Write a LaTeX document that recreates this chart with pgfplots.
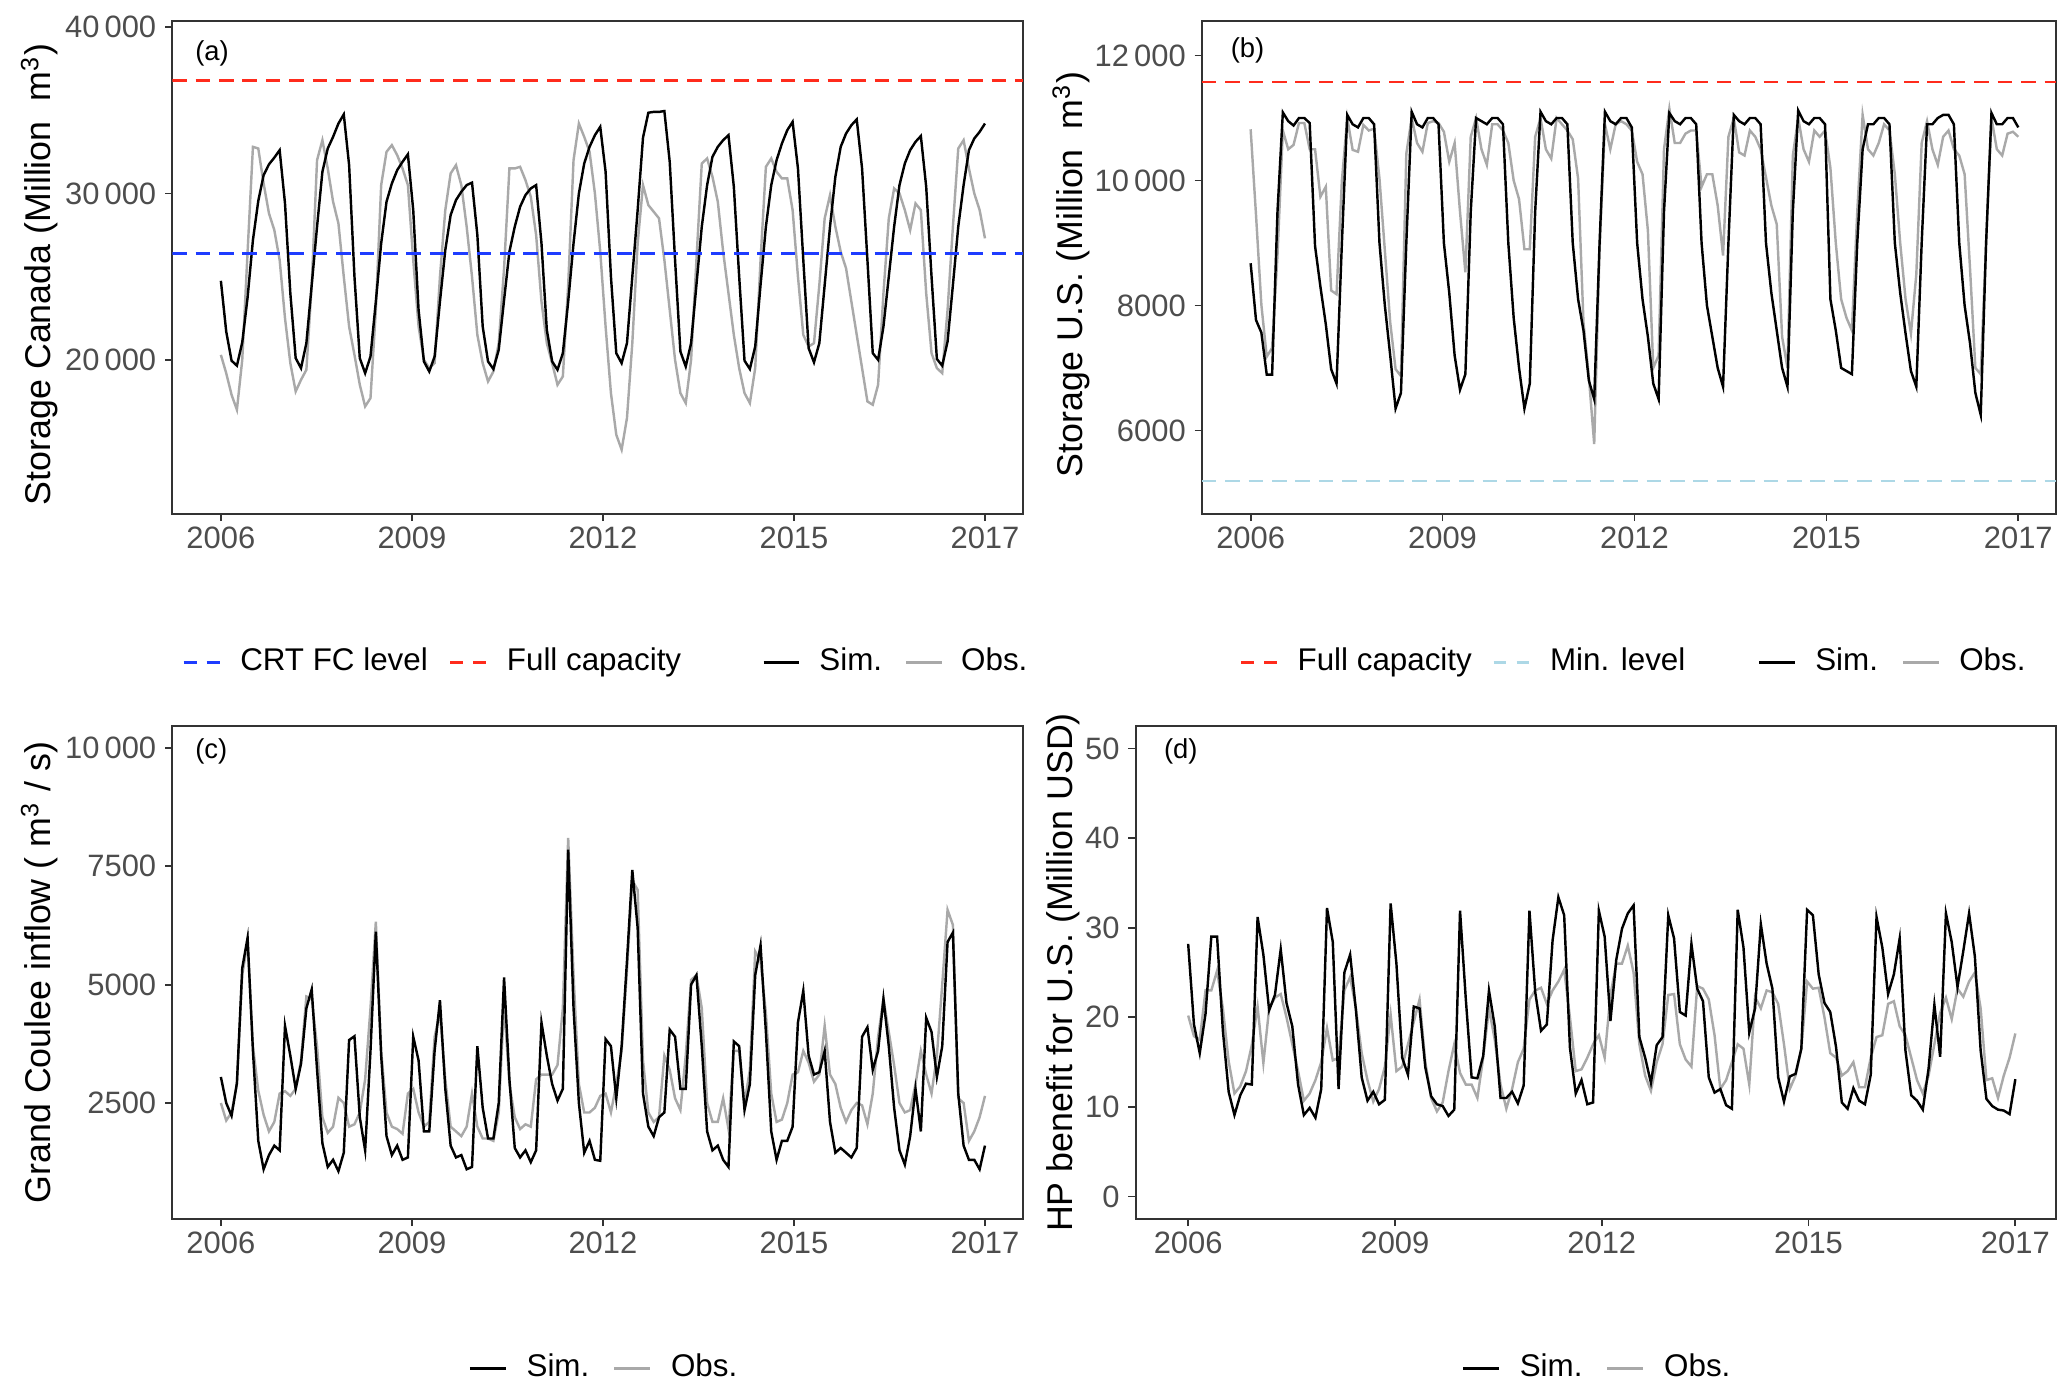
\documentclass[border=0pt]{standalone}
\usepackage{fontspec}
\setmainfont{Liberation Sans}
\usepackage{pgfplots}
\usepackage{pgfplotstable}
\pgfplotsset{compat=1.18}

\definecolor{obsgray}{HTML}{A9A9A9}
\definecolor{tickgray}{HTML}{4D4D4D}
\definecolor{framegray}{HTML}{333333}
\definecolor{fullred}{HTML}{FF2B1C}
\definecolor{crtblue}{HTML}{1E3CFF}
\definecolor{minblue}{HTML}{ADD8E6}

% monthly series, k = 0 (2006-01) ... 143 (end of record)
% (a) storage Canada, million m3
\pgfplotstableread[row sep=\\]{
k sim obs\\
0 24750 20300\\ 1 21700 19200\\ 2 19950 17900\\ 3 19650 17000\\ 4 21050 20000\\ 5 23750 26500\\ 6 27200 32800\\ 7 29550 32700\\ 8 31100 30600\\ 9 31750 28800\\ 10 32150 27800\\ 11 32600 26000\\
12 29400 22500\\ 13 24000 19800\\ 14 20100 18100\\ 15 19500 18800\\ 16 21000 19400\\ 17 24500 24500\\ 18 28000 32000\\ 19 31300 33200\\ 20 32700 31500\\ 21 33400 29500\\ 22 34200 28200\\ 23 34750 25000\\
24 31700 22000\\ 25 25000 20300\\ 26 20100 18500\\ 27 19200 17200\\ 28 20200 17700\\ 29 23500 23000\\ 30 27000 30500\\ 31 29500 32500\\ 32 30600 32900\\ 33 31400 32300\\ 34 31900 31500\\ 35 32350 30500\\
36 29000 26000\\ 37 23000 22000\\ 38 19900 20000\\ 39 19300 19500\\ 40 20200 19800\\ 41 23500 25000\\ 42 26600 29000\\ 43 28700 31200\\ 44 29600 31700\\ 45 30100 30500\\ 46 30500 28000\\ 47 30650 25000\\
48 27500 21500\\ 49 22000 19800\\ 50 19900 18700\\ 51 19450 19300\\ 52 20600 21000\\ 53 23600 25500\\ 54 26500 31500\\ 55 28000 31500\\ 56 29200 31600\\ 57 29900 30800\\ 58 30300 29800\\ 59 30500 27500\\
60 27000 23500\\ 61 21800 21000\\ 62 19900 19800\\ 63 19400 18500\\ 64 20400 19000\\ 65 23500 24500\\ 66 27000 32000\\ 67 30000 34200\\ 68 31800 33400\\ 69 32800 32500\\ 70 33500 30000\\ 71 34000 26500\\
72 31300 22000\\ 73 25000 18000\\ 74 20400 15500\\ 75 19800 14600\\ 76 21000 16500\\ 77 25000 21000\\ 78 29000 27000\\ 79 33350 30500\\ 80 34850 29300\\ 81 34900 28900\\ 82 34900 28500\\ 83 34950 26000\\
84 31900 23000\\ 85 26000 20000\\ 86 20500 18000\\ 87 19600 17400\\ 88 21000 20000\\ 89 24500 26000\\ 90 28000 31800\\ 91 30500 32100\\ 92 32200 31000\\ 93 32800 29500\\ 94 33200 26500\\ 95 33500 24000\\
96 30400 21500\\ 97 25000 19500\\ 98 19950 18000\\ 99 19450 17400\\ 100 20800 19500\\ 101 24500 26000\\ 102 28000 31600\\ 103 30500 32100\\ 104 32000 31300\\ 105 33000 30900\\ 106 33800 30900\\ 107 34300 29000\\
108 31500 25000\\ 109 26000 21500\\ 110 20700 20800\\ 111 19850 21000\\ 112 21000 24500\\ 113 24500 28500\\ 114 28000 29900\\ 115 31000 28000\\ 116 32800 26500\\ 117 33600 25500\\ 118 34100 23500\\ 119 34450 21500\\
120 31500 19500\\ 121 26000 17500\\ 122 20400 17300\\ 123 20000 18500\\ 124 22000 24000\\ 125 25000 28500\\ 126 28000 30300\\ 127 30500 30000\\ 128 31800 29000\\ 129 32600 27800\\ 130 33100 29400\\ 131 33450 29000\\
132 30400 24000\\ 133 25000 20400\\ 134 20050 19500\\ 135 19650 19200\\ 136 21100 23000\\ 137 24500 28000\\ 138 28000 32700\\ 139 30500 33200\\ 140 32600 31500\\ 141 33300 30000\\ 142 33700 29000\\ 143 34200 27300\\
}\tabA

% (b) storage U.S., million m3
\pgfplotstableread[row sep=\\]{
k sim obs\\
0 8675 10820\\ 1 7767 9450\\ 2 7565 8010\\ 3 6892 7180\\ 4 6892 7320\\ 5 9500 8800\\ 6 11090 10800\\ 7 10950 10500\\ 8 10880 10570\\ 9 11000 10920\\ 10 11000 10920\\ 11 10920 10500\\
12 8950 10500\\ 13 8300 9740\\ 14 7700 9900\\ 15 6980 8240\\ 16 6750 8180\\ 17 9000 10000\\ 18 11050 11000\\ 19 10900 10490\\ 20 10850 10460\\ 21 11000 10890\\ 22 11000 10800\\ 23 10900 10830\\
24 9000 10030\\ 25 8000 8880\\ 26 7200 7730\\ 27 6350 6980\\ 28 6600 6870\\ 29 9000 10430\\ 30 11100 11000\\ 31 10900 10600\\ 32 10850 10460\\ 33 11000 10920\\ 34 11000 10950\\ 35 10900 10920\\
36 9000 10780\\ 37 8200 10300\\ 38 7200 10600\\ 39 6650 9500\\ 40 6900 8530\\ 41 9500 10700\\ 42 11000 11000\\ 43 10950 10500\\ 44 10900 10250\\ 45 11000 10900\\ 46 11000 10900\\ 47 10900 10800\\
48 9000 10600\\ 49 7800 10000\\ 50 7000 9700\\ 51 6350 8900\\ 52 6750 8900\\ 53 9500 10700\\ 54 11100 11000\\ 55 10950 10500\\ 56 10900 10350\\ 57 11000 11000\\ 58 11000 10900\\ 59 10900 10800\\
60 9000 10660\\ 61 8100 10030\\ 62 7600 7730\\ 63 6800 6860\\ 64 6500 5780\\ 65 9000 8900\\ 66 11100 10900\\ 67 10950 10500\\ 68 10900 10900\\ 69 11000 10950\\ 70 11000 10900\\ 71 10850 10800\\
72 9000 10300\\ 73 8100 10100\\ 74 7500 9200\\ 75 6750 7000\\ 76 6500 7200\\ 77 9500 10500\\ 78 11080 11150\\ 79 10950 10600\\ 80 10900 10600\\ 81 11000 10750\\ 82 11000 10800\\ 83 10900 10800\\
84 9000 9900\\ 85 8000 10100\\ 86 7500 10100\\ 87 7000 9600\\ 88 6700 8800\\ 89 9000 10700\\ 90 11050 11000\\ 91 10950 10450\\ 92 10900 10400\\ 93 11000 10800\\ 94 11000 10700\\ 95 10900 10500\\
96 9000 10050\\ 97 8200 9600\\ 98 7600 9300\\ 99 7000 7500\\ 100 6700 7000\\ 101 9500 10400\\ 102 11120 11000\\ 103 10950 10500\\ 104 10900 10300\\ 105 11000 10800\\ 106 11000 10700\\ 107 10900 10800\\
108 8100 10200\\ 109 7600 9000\\ 110 7000 8100\\ 111 6950 7800\\ 112 6900 7600\\ 113 9000 9500\\ 114 10500 11050\\ 115 10900 10500\\ 116 10900 10400\\ 117 11000 10600\\ 118 11000 10900\\ 119 10900 10800\\
120 9000 10100\\ 121 8200 9000\\ 122 7550 8100\\ 123 6950 7550\\ 124 6700 8500\\ 125 9000 10600\\ 126 10900 10950\\ 127 10900 10500\\ 128 11000 10250\\ 129 11050 10700\\ 130 11050 10800\\ 131 10900 10500\\
132 9000 10400\\ 133 8000 10100\\ 134 7400 8600\\ 135 6600 7000\\ 136 6250 6900\\ 137 9000 9000\\ 138 11080 11000\\ 139 10900 10500\\ 140 10900 10400\\ 141 11000 10750\\ 142 11000 10780\\ 143 10850 10700\\
}\tabB

% (c) Grand Coulee inflow, m3/s
\pgfplotstableread[row sep=\\]{
k sim obs\\
0 3050 2500\\ 1 2500 2130\\ 2 2230 2300\\ 3 2920 2900\\ 4 5350 5200\\ 5 5990 5900\\ 6 3600 3700\\ 7 1700 2760\\ 8 1100 2250\\ 9 1400 1900\\ 10 1600 2100\\ 11 1500 2700\\
12 4130 2750\\ 13 3500 2650\\ 14 2800 2800\\ 15 3330 3400\\ 16 4500 4750\\ 17 4900 4700\\ 18 3200 3700\\ 19 1650 2200\\ 20 1150 1870\\ 21 1300 2000\\ 22 1060 2610\\ 23 1450 2500\\
24 3830 2000\\ 25 3910 2050\\ 26 2200 2300\\ 27 1500 3000\\ 28 3600 4500\\ 29 6120 6330\\ 30 3500 3600\\ 31 1800 2300\\ 32 1400 2000\\ 33 1600 1950\\ 34 1300 1850\\ 35 1350 2700\\
36 3900 2800\\ 37 3400 2300\\ 38 1900 2000\\ 39 1900 2100\\ 40 3600 3900\\ 41 4670 4400\\ 42 2800 3000\\ 43 1600 2000\\ 44 1350 1900\\ 45 1400 1800\\ 46 1100 2000\\ 47 1150 2700\\
48 3700 2000\\ 49 2400 1750\\ 50 1750 1750\\ 51 1750 1700\\ 52 2500 2300\\ 53 5150 4600\\ 54 3000 2900\\ 55 1550 2200\\ 56 1350 1950\\ 57 1500 2050\\ 58 1250 2000\\ 59 1500 3000\\
60 4200 3100\\ 61 3500 3100\\ 62 2900 3100\\ 63 2550 3300\\ 64 2800 4500\\ 65 7850 8100\\ 66 4500 5200\\ 67 2500 2900\\ 68 1450 2300\\ 69 1700 2300\\ 70 1300 2400\\ 71 1280 2650\\
72 3850 2700\\ 73 3700 2300\\ 74 2600 2900\\ 75 3700 3600\\ 76 5500 5300\\ 77 7420 7200\\ 78 6200 7000\\ 79 2700 3400\\ 80 2000 2300\\ 81 1800 2100\\ 82 2200 2200\\ 83 2300 3500\\
84 4050 3200\\ 85 3900 2600\\ 86 2800 2350\\ 87 2800 3500\\ 88 5000 5100\\ 89 5200 5200\\ 90 3700 4500\\ 91 1900 2500\\ 92 1500 2100\\ 93 1600 2100\\ 94 1300 2600\\ 95 1150 1950\\
96 3800 3600\\ 97 3700 3600\\ 98 2350 2500\\ 99 2900 3200\\ 100 5200 5700\\ 101 5830 5500\\ 102 4000 4400\\ 103 1900 2700\\ 104 1300 2100\\ 105 1700 2150\\ 106 1700 2500\\ 107 2000 3100\\
108 4200 3150\\ 109 4870 3600\\ 110 3500 3350\\ 111 3100 2950\\ 112 3150 3100\\ 113 3600 4130\\ 114 2100 3100\\ 115 1450 2900\\ 116 1550 2400\\ 117 1450 2100\\ 118 1350 2350\\ 119 1550 2500\\
120 3900 2450\\ 121 4100 2050\\ 122 3200 2700\\ 123 3600 3900\\ 124 4700 4700\\ 125 3700 4000\\ 126 2400 3300\\ 127 1500 2500\\ 128 1200 2300\\ 129 1800 2350\\ 130 2800 2900\\ 131 1900 3600\\
132 4300 3100\\ 133 4000 2700\\ 134 3050 3500\\ 135 3700 5000\\ 136 5900 6580\\ 137 6100 6260\\ 138 2700 2600\\ 139 1600 2500\\ 140 1300 1700\\ 141 1300 1900\\ 142 1100 2200\\ 143 1600 2650\\
}\tabC

% (d) HP benefit for U.S., million USD
\pgfplotstableread[row sep=\\]{
k sim obs\\
0 28.2 20.2\\ 1 19.2 17.9\\ 2 16.0 17.5\\ 3 20.4 23.0\\ 4 29.0 23.0\\ 5 29.0 25.2\\ 6 18.5 21.0\\ 7 11.7 15.1\\ 8 9.1 11.5\\ 9 11.3 12.3\\ 10 12.6 14.0\\ 11 12.5 16.9\\
12 31.2 21.2\\ 13 27.0 14.9\\ 14 20.8 21.0\\ 15 22.5 22.2\\ 16 27.6 22.6\\ 17 21.6 20.0\\ 18 19.0 17.0\\ 19 12.5 14.0\\ 20 9.1 10.7\\ 21 9.9 11.5\\ 22 8.8 13.0\\ 23 12.0 15.0\\
24 32.2 18.8\\ 25 28.4 15.2\\ 26 12.0 15.5\\ 27 25.0 23.0\\ 28 27.0 24.5\\ 29 20.8 21.0\\ 30 13.3 16.0\\ 31 10.7 13.0\\ 32 11.7 10.6\\ 33 10.3 12.0\\ 34 10.8 14.5\\ 35 32.7 20.3\\
36 26.0 14.0\\ 37 15.5 14.5\\ 38 13.6 17.0\\ 39 21.2 19.5\\ 40 21.0 22.0\\ 41 14.4 15.0\\ 42 11.2 11.0\\ 43 10.3 9.5\\ 44 10.1 10.5\\ 45 9.0 14.0\\ 46 9.7 17.0\\ 47 31.9 13.8\\
48 22.0 12.5\\ 49 13.3 12.5\\ 50 13.2 11.0\\ 51 15.7 15.5\\ 52 23.0 21.0\\ 53 19.0 17.5\\ 54 11.0 12.5\\ 55 11.0 9.8\\ 56 11.7 12.0\\ 57 10.4 15.0\\ 58 12.4 16.5\\ 59 31.9 22.0\\
60 22.8 23.0\\ 61 18.5 23.3\\ 62 19.2 21.5\\ 63 28.6 23.0\\ 64 33.4 24.0\\ 65 31.4 25.3\\ 66 16.6 20.0\\ 67 11.5 14.0\\ 68 13.0 14.2\\ 69 10.3 15.5\\ 70 10.5 17.0\\ 71 31.9 18.0\\
72 29.0 15.5\\ 73 19.6 22.5\\ 74 26.4 26.0\\ 75 29.9 26.0\\ 76 31.6 28.0\\ 77 32.5 25.0\\ 78 17.8 17.0\\ 79 15.5 13.5\\ 80 12.7 11.8\\ 81 16.9 15.0\\ 82 17.8 17.0\\ 83 31.4 22.5\\
84 28.8 22.6\\ 85 20.6 17.0\\ 86 20.2 15.3\\ 87 28.2 14.5\\ 88 23.2 23.5\\ 89 21.8 23.2\\ 90 13.3 22.0\\ 91 11.6 18.0\\ 92 12.0 12.0\\ 93 10.2 13.0\\ 94 9.8 15.0\\ 95 32.0 17.0\\
96 27.8 16.5\\ 97 18.3 12.5\\ 98 21.0 22.3\\ 99 30.4 21.0\\ 100 26.0 23.0\\ 101 23.2 22.8\\ 102 13.3 21.5\\ 103 10.6 17.0\\ 104 13.4 12.0\\ 105 13.7 13.5\\ 106 16.5 16.5\\ 107 32.0 24.0\\
108 31.4 23.2\\ 109 24.8 23.3\\ 110 21.6 20.0\\ 111 20.6 16.0\\ 112 16.7 15.5\\ 113 10.5 13.5\\ 114 9.8 14.0\\ 115 12.1 15.0\\ 116 10.7 12.2\\ 117 10.3 12.2\\ 118 13.6 15.5\\ 119 31.2 17.8\\
120 27.8 18.0\\ 121 22.6 21.5\\ 122 24.8 21.8\\ 123 28.8 19.0\\ 124 16.3 18.0\\ 125 11.3 15.5\\ 126 10.7 13.0\\ 127 9.7 11.5\\ 128 14.3 13.5\\ 129 21.4 17.0\\ 130 15.6 20.5\\ 131 31.6 22.2\\
132 28.4 19.8\\ 133 23.4 23.2\\ 134 27.4 22.3\\ 135 31.6 24.0\\ 136 26.8 25.0\\ 137 16.3 21.0\\ 138 10.9 13.0\\ 139 10.1 13.2\\ 140 9.7 11.0\\ 141 9.6 13.5\\ 142 9.2 15.5\\ 143 13.1 18.2\\
}\tabD

\pgfplotsset{
  panel/.style={
    scale only axis,
    anchor=north west,
    xmin=-9.1, xmax=150.1,
    xtick={0,35.75,71.5,107.25,143},
    xticklabels={2006,2009,2012,2015,2017},
    xtick pos=bottom, ytick pos=left,
    scaled y ticks=false,
    tick align=outside,
    major tick length=1.6pt,
    tick style={framegray, line width=0.4pt},
    axis line style={framegray, line width=0.45pt},
    ticklabel style={font=\fontsize{7}{8}\selectfont, text=tickgray},
    xticklabel style={yshift=2.3pt},
    yticklabel style={xshift=1.5pt},
    /pgf/number format/assume math mode=true,
    ylabel style={font=\fontsize{8.1}{9.5}\selectfont, anchor=center},
    legend columns=-1,
    legend style={draw=none, fill=none, inner sep=0pt, anchor=west,
      font=\fontsize{7.1}{8.5}\selectfont,
      nodes={inner sep=0pt, anchor=west}},
    legend image code/.code={\draw[##1] (0pt,0pt) -- (8.1pt,0pt);},
  },
  sim/.style={draw=black, line width=0.55pt, forget plot},
  obs/.style={draw=obsgray, line width=0.55pt, forget plot},
  hl/.style={line width=0.6pt, dash pattern=on 3.3pt off 2pt, forget plot},
  lgdash/.style={line width=0.6pt, dash pattern=on 2.9pt off 2.3pt},
  lgline/.style={line width=0.7pt},
}
\tikzset{plab/.style={anchor=west, inner sep=0pt, font=\fontsize{6.2}{7}\selectfont}}
% legend text with fixed gaps before and after
\newcommand{\lgent}[3]{\hspace*{#1}#2\hspace*{#3}\mbox{}}

\begin{document}
\begin{tikzpicture}
\useasboundingbox (0,0) rectangle (468pt,-315pt);

% (a) Canada storage
\begin{axis}[panel,
  at={(39pt,-4.8pt)}, width=192.6pt, height=111.6pt,
  ymin=10730, ymax=40350,
  ytick={20000,30000,40000},
  yticklabels={20\,000,30\,000,40\,000},
  ylabel={Storage Canada (Million~~m\textsuperscript{3})},
  ylabel style={at={(axis description cs:-0.156,0.4866)}},
  legend style={at={(axis description cs:0.0109,-0.301)}},
]
\addlegendimage{crtblue, lgdash}
\addlegendentry{\lgent{4.4pt}{CRT FC level}{4.8pt}}
\addlegendimage{fullred, lgdash}
\addlegendentry{\lgent{4.4pt}{Full capacity}{18.3pt}}
\addlegendimage{black, lgline}
\addlegendentry{\lgent{4.2pt}{Sim.}{5.1pt}}
\addlegendimage{obsgray, lgline}
\addlegendentry{\lgent{4.0pt}{Obs.}{0pt}}
\addplot[obs] table[x=k, y=obs] {\tabA};
\addplot[sim] table[x=k, y=sim] {\tabA};
\addplot[hl, crtblue] coordinates {(-9.1,26400) (150.1,26400)};
\addplot[hl, fullred] coordinates {(-9.1,36800) (150.1,36800)};
\node[plab] at (rel axis cs:0.026,0.935) {(a)};
\end{axis}

% (b) U.S. storage
\begin{axis}[panel,
  at={(272.1pt,-4.8pt)}, width=193.5pt, height=111.6pt,
  ymin=4660, ymax=12550,
  ytick={6000,8000,10000,12000},
  yticklabels={6000,8000,10\,000,12\,000},
  ylabel={Storage U.S. (Million~~m\textsuperscript{3})},
  ylabel style={at={(axis description cs:-0.153,0.4866)}},
  legend style={at={(axis description cs:0.0434,-0.301)}},
]
\addlegendimage{fullred, lgdash}
\addlegendentry{\lgent{4.4pt}{Full capacity}{4.6pt}}
\addlegendimage{minblue, lgdash}
\addlegendentry{\lgent{4.4pt}{Min. level}{16.4pt}}
\addlegendimage{black, lgline}
\addlegendentry{\lgent{4.2pt}{Sim.}{5.4pt}}
\addlegendimage{obsgray, lgline}
\addlegendentry{\lgent{4.2pt}{Obs.}{0pt}}
\addplot[obs] table[x=k, y=obs] {\tabB};
\addplot[sim] table[x=k, y=sim] {\tabB};
\addplot[hl, fullred] coordinates {(-9.1,11575) (150.1,11575)};
\addplot[hl, minblue] coordinates {(-9.1,5190) (150.1,5190)};
\node[plab] at (rel axis cs:0.033,0.941) {(b)};
\end{axis}

% (c) Grand Coulee inflow
\begin{axis}[panel,
  at={(39pt,-164.4pt)}, width=192.6pt, height=111.6pt,
  ymin=50, ymax=10460,
  ytick={2500,5000,7500,10000},
  yticklabels={2500,5000,7500,10\,000},
  ylabel={Grand Coulee inflow ( m\textsuperscript{3} / s)},
  ylabel style={at={(axis description cs:-0.156,0.5)}},
  legend style={at={(axis description cs:0.347,-0.304)}},
]
\addlegendimage{black, lgline}
\addlegendentry{\lgent{4.4pt}{Sim.}{5.3pt}}
\addlegendimage{obsgray, lgline}
\addlegendentry{\lgent{4.4pt}{Obs.}{0pt}}
\addplot[obs] table[x=k, y=obs] {\tabC};
\addplot[sim] table[x=k, y=sim] {\tabC};
\node[plab] at (rel axis cs:0.026,0.949) {(c)};
\end{axis}

% (d) HP benefit for U.S.
\begin{axis}[panel,
  at={(257.1pt,-164.4pt)}, width=208.5pt, height=111.6pt,
  ymin=-2.5, ymax=52.5,
  ytick={0,10,20,30,40,50},
  yticklabels={0,10,20,30,40,50},
  ylabel={HP benefit for U.S. (Million USD)},
  ylabel style={at={(axis description cs:-0.079,0.5)}},
  legend style={at={(axis description cs:0.353,-0.304)}},
]
\addlegendimage{black, lgline}
\addlegendentry{\lgent{4.4pt}{Sim.}{5.3pt}}
\addlegendimage{obsgray, lgline}
\addlegendentry{\lgent{4.4pt}{Obs.}{0pt}}
\addplot[obs] table[x=k, y=obs] {\tabD};
\addplot[sim] table[x=k, y=sim] {\tabD};
\node[plab] at (rel axis cs:0.030,0.949) {(d)};
\end{axis}
\end{tikzpicture}
\end{document}
